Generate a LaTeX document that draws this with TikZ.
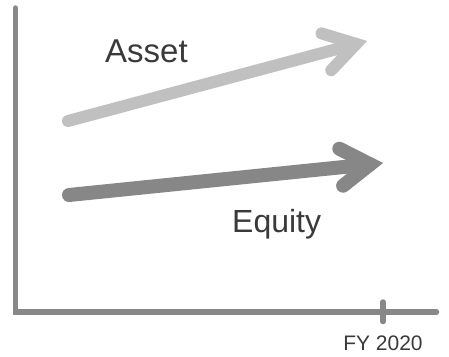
\documentclass[tikz,border=0pt]{standalone}
\usepackage{fontspec}
\setmainfont{Liberation Sans}
\definecolor{axisgray}{HTML}{888888}
\definecolor{assetgray}{HTML}{C0C0C0}
\definecolor{equitygray}{HTML}{878787}
\definecolor{labelgray}{HTML}{3A3A3A}
\begin{document}
\begin{tikzpicture}[x=1pt,y=-1pt,
  axisline/.style={draw=axisgray,line width=5.5pt,line cap=round,line join=miter},
  trend/.style={line cap=round,line join=miter,miter limit=10},
  assetarrow/.style={trend,draw=assetgray,line width=12pt},
  equityarrow/.style={trend,draw=equitygray,line width=14pt},
  label/.style={text=labelgray,inner sep=0pt,anchor=base west}]
\useasboundingbox[fill=white] (0,0) rectangle (449,356);

% axes
\coordinate (ytop) at (15.5,8);
\coordinate (origin) at (15.5,312);
\coordinate (xend) at (436.5,312);
\draw[axisline] (ytop) -- (origin) -- (xend);

% tick for the fiscal year
\coordinate (ticktop) at (383,302);
\coordinate (tickbot) at (383,321.5);
\draw[axisline] (ticktop) -- (tickbot);
\node[text=labelgray,inner sep=0pt,anchor=base,font=\fontsize{21}{21}\selectfont] (fylabel) at (383,350) {FY 2020};

% asset trend
\coordinate (assetstart) at (68,121);
\coordinate (assetvertex) at (356.1,43.9);
\coordinate (assetbarbup) at (321.5,33.4);
\coordinate (assetbarbdown) at (331.3,70.2);
\draw[assetarrow] (assetstart) -- (assetvertex);
\draw[assetarrow] (assetbarbup) -- (assetvertex) -- (assetbarbdown);
\node[label,font=\fontsize{33}{33}\selectfont] (assetlabel) at (105,62) {Asset};

% equity trend
\coordinate (equitystart) at (69,195);
\coordinate (equityvertex) at (370.1,164.3);
\coordinate (equitybarbup) at (339.3,148.7);
\coordinate (equitybarbdown) at (343.1,185.7);
\draw[equityarrow] (equitystart) -- (equityvertex);
\draw[equityarrow] (equitybarbup) -- (equityvertex) -- (equitybarbdown);
\node[label,font=\fontsize{32}{32}\selectfont] (equitylabel) at (232,232) {Equity};
\end{tikzpicture}
\end{document}
